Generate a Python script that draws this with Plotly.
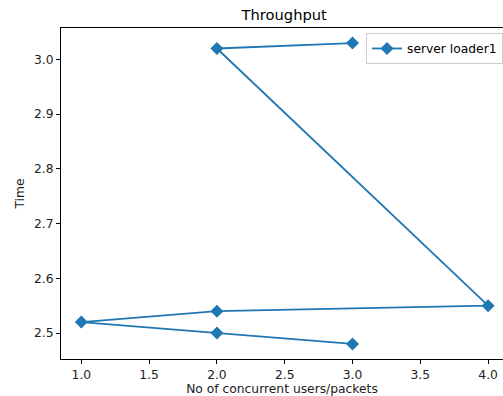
import plotly.graph_objects as go

users = [3, 2, 4, 2, 1, 2, 3]
times = [3.03, 3.02, 2.55, 2.54, 2.52, 2.50, 2.48]
series_name = "server loader1"
x_ticks = [1.0, 1.5, 2.0, 2.5, 3.0, 3.5, 4.0]
y_ticks = [2.5, 2.6, 2.7, 2.8, 2.9, 3.0]

font = "DejaVu Sans"
fs = 12.3
fig = go.Figure()
fig.add_trace(go.Scatter(
    x=users, y=times, mode="lines+markers", name=series_name,
    line=dict(color="#1f77b4", width=1.8),
    marker=dict(symbol="diamond", size=10, color="#1f77b4"),
))
fig.update_layout(
    width=503, height=396,
    margin=dict(l=61, r=0, t=28, b=37),
    paper_bgcolor="white", plot_bgcolor="white",
    font=dict(family=font, size=fs, color="black"),
    title=dict(text="Throughput", x=0.565, xref="container", xanchor="center",
               y=1 - 15/396, yref="container", yanchor="middle",
               font=dict(size=14.7, family=font, color="black")),
    showlegend=True,
    legend=dict(x=1, xanchor="right", y=0.985, yanchor="top",
                bordercolor="#cccccc", borderwidth=1, bgcolor="white",
                font=dict(size=fs, family=font)),
    xaxis=dict(range=[0.85, 4.11], tickvals=x_ticks, tickformat=".1f",
               showgrid=False, zeroline=False, showline=True, mirror=True,
               linecolor="black", linewidth=1, ticks="outside", ticklen=4,
               tickcolor="black", tickfont=dict(size=fs, family=font, color="#222"),
               title=dict(text="No of concurrent users/packets", standoff=3,
                          font=dict(size=fs, family=font, color="#222"))),
    yaxis=dict(range=[2.4525, 3.0575], tickvals=y_ticks, tickformat=".1f",
               showgrid=False, zeroline=False, showline=True, mirror=False,
               linecolor="black", linewidth=1, ticks="outside", ticklen=4,
               tickcolor="black", tickfont=dict(size=fs, family=font, color="#222"),
               title=dict(text="Time", standoff=6,
                          font=dict(size=fs, family=font, color="#222"))),
)
fig.write_html(
    "out.html",
    config={"displayModeBar": False},
    post_script="document.body.style.margin='0';document.body.style.overflow='hidden';",
)
